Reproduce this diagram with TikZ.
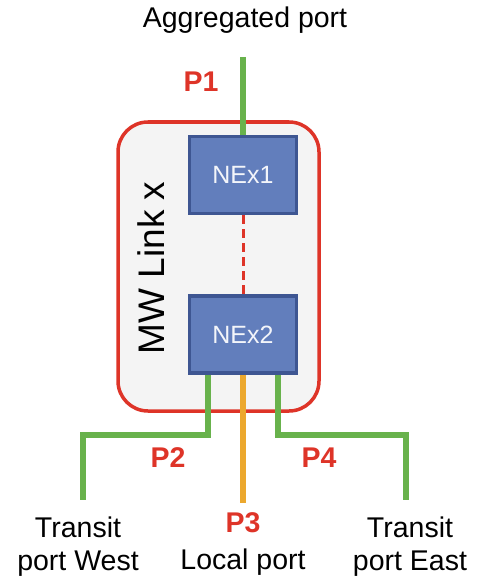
\documentclass[tikz,border=0pt]{standalone}
\usepackage{fontspec}
\setmainfont{Liberation Sans}
\definecolor{linkred}{RGB}{222,52,40}
\definecolor{portgreen}{RGB}{104,178,76}
\definecolor{portorange}{RGB}{236,168,46}
\definecolor{nefill}{RGB}{98,126,188}
\definecolor{nedraw}{RGB}{62,86,146}
\definecolor{boxfill}{RGB}{244,244,244}
\tikzset{
  linkbox/.style={draw=linkred, line width=3.5pt, fill=boxfill, rounded corners=30pt},
  nebox/.style={draw=nedraw, line width=3.5pt, fill=nefill, minimum width=107pt, minimum height=77pt,
    text=white!92!nefill, font=\fontsize{25}{29}\selectfont, inner sep=0pt},
  greenport/.style={draw=portgreen, line width=6pt},
  orangeport/.style={draw=portorange, line width=6pt},
  plabel/.style={text=linkred, font=\bfseries\fontsize{28.5}{32}\selectfont, inner sep=0pt},
  txt/.style={font=\fontsize{28.5}{33}\selectfont, align=center, inner sep=0pt},
}
\begin{document}
\begin{tikzpicture}[x=1pt,y=-1pt]
\useasboundingbox (0,0) rectangle (490,583);
% MW link box
\path[linkbox] (118,122) rectangle (319,411);
\node[font=\fontsize{37}{40}\selectfont, rotate=90, inner sep=0pt] (mw) at (151,268) {MW Link x};
% nodes
\node[nebox] (nex1) at (243,175) {NEx1};
\node[nebox] (nex2) at (243,334.5) {NEx2};
% coordinates
\coordinate (top) at (243,57);
\coordinate (w1) at (208,435);
\coordinate (w2) at (83,435);
\coordinate (w3) at (83,500);
\coordinate (l1) at (243,503);
\coordinate (e1) at (278,435);
\coordinate (e2) at (406,435);
\coordinate (e3) at (406,500);
% connectors
\draw[greenport] (top) -- (nex1.north);
\draw[linkred, line width=3pt, dash pattern=on 9pt off 5pt] (nex1.south) -- (nex2.north);
\draw[greenport] ([xshift=-35pt]nex2.south) -- (w1) -- (w2) -- (w3);
\draw[orangeport] (nex2.south) -- (l1);
\draw[greenport] ([xshift=35pt]nex2.south) -- (e1) -- (e2) -- (e3);
% labels
\node[txt] (agg) at (245,20) {Aggregated port};
\node[plabel] (p1) at (201,82) {P1};
\node[plabel] (p2) at (168,458) {P2};
\node[plabel] (p3) at (243,523) {P3};
\node[plabel] (p4) at (319,458) {P4};
\node[txt] (west) at (78,547) {Transit\\port West};
\node[txt] (local) at (243,562) {Local port};
\node[txt] (east) at (410,547) {Transit\\port East};
\end{tikzpicture}
\end{document}
